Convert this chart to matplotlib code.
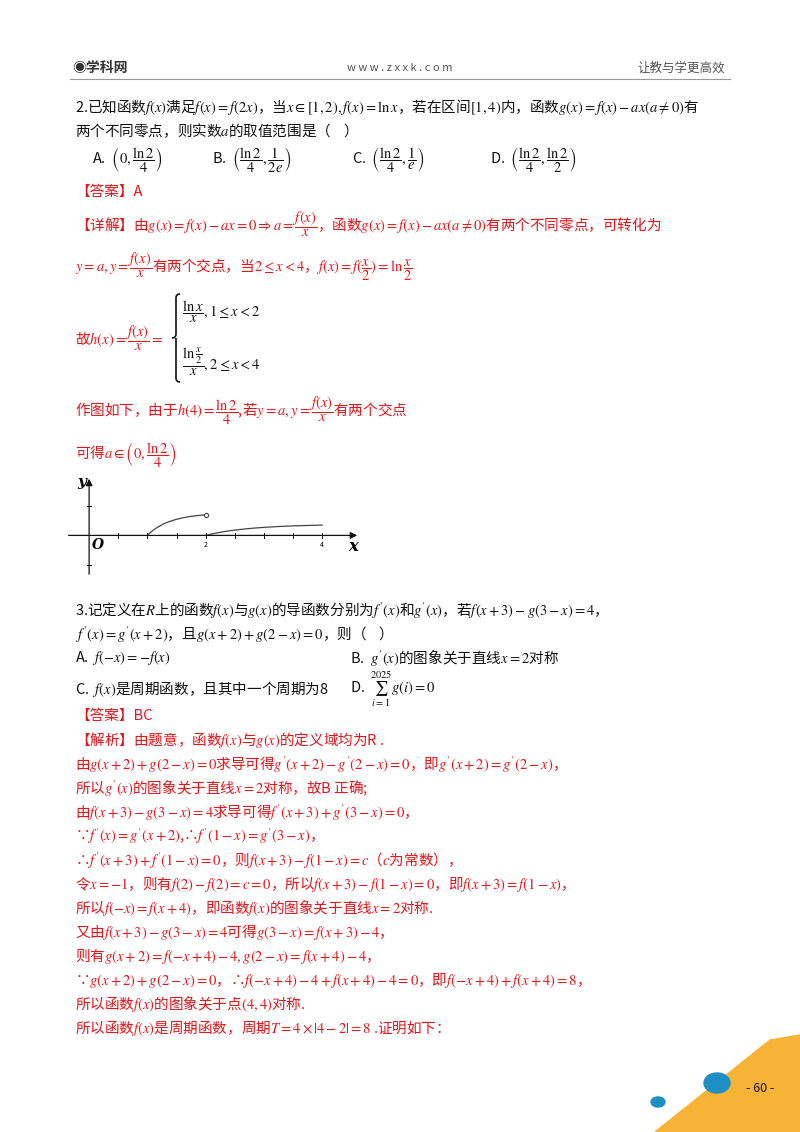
import numpy as np
import matplotlib
matplotlib.use("Agg")
import matplotlib.pyplot as plt
from matplotlib.patches import Polygon, Ellipse, PathPatch
from matplotlib.path import Path

plt.rcParams['font.family'] = ['Noto Sans CJK SC', 'DejaVu Sans']
plt.rcParams['mathtext.fontset'] = 'stix'

W, H = 800, 1132
fig = plt.figure(figsize=(8, 11.32), dpi=100)
R = '#e8141b'; K = '#111111'

def T(x, y, s, c=K, fs=10.5, **kw):
    fig.text(x / W, 1 - y / H, s, color=c, fontsize=fs, va='center', ha=kw.pop('ha', 'left'), **kw)

# header
T(72, 68, '◉学科网', '#333333', 10, weight='bold')
T(400, 68, 'w w w . z x x k . c o m', '#555555', 8, ha='center')
T(725, 68, '让教与学更高效', '#555555', 9, ha='right')
fig.add_artist(plt.Line2D([70/W, 730/W], [1-79/H, 1-79/H], color='#999999', lw=0.8))

lines = [
 (75, 107, r'2.已知函数$f(x)$满足$f(x)=f(2x)$，当$x\in[1,2),f(x)=\ln x$，若在区间$[1,4)$内，函数$g(x)=f(x)-ax(a\neq0)$有', K),
 (75, 131, '两个不同零点，则实数$a$的取值范围是（    ）', K),
 (92, 160, r'A.  $\left(0,\dfrac{\ln2}{4}\right)$', K),
 (212, 160, r'B.  $\left(\dfrac{\ln2}{4},\dfrac{1}{2e}\right)$', K),
 (352, 160, r'C.  $\left(\dfrac{\ln2}{4},\dfrac{1}{e}\right)$', K),
 (490, 160, r'D.  $\left(\dfrac{\ln2}{4},\dfrac{\ln2}{2}\right)$', K),
 (75, 192, '【答案】A', R),
 (75, 224, r'【详解】由$g(x)=f(x)-ax=0\Rightarrow a=\dfrac{f(x)}{x}$，函数$g(x)=f(x)-ax(a\neq0)$有两个不同零点，可转化为', R),
 (75, 267, r'$y=a,y=\dfrac{f(x)}{x}$有两个交点，当$2\leq x<4$，$f(x)=f(\dfrac{x}{2})=\ln\dfrac{x}{2}$', R),
 (75, 338, r'故$h(x)=\dfrac{f(x)}{x}=$', R),
 (182, 312, r'$\dfrac{\ln x}{x},1\leq x<2$', K),
 (182, 362, r'$\dfrac{\ln\frac{x}{2}}{x},2\leq x<4$', K),
 (75, 411, r'作图如下，由于$h(4)=\dfrac{\ln2}{4}$,若$y=a,y=\dfrac{f(x)}{x}$有两个交点', R),
 (75, 455, r'可得$a\in\left(0,\dfrac{\ln2}{4}\right)$', R),
 (75, 610, r'3.记定义在$R$上的函数$f(x)$与$g(x)$的导函数分别为$f^\prime(x)$和$g^\prime(x)$，若$f(x+3)-g(3-x)=4$，', K),
 (75, 634, r"$f^\prime(x)=g^\prime(x+2)$，且$g(x+2)+g(2-x)=0$，则（    ）", K),
 (75, 658, r'A.  $f(-x)=-f(x)$', K),
 (350, 658, r"B.  $g^\prime(x)$的图象关于直线$x=2$对称", K),
 (75, 689, r'C.  $f(x)$是周期函数，且其中一个周期为8', K),
 (350, 689, r'D.  $\sum_{i=1}^{2025}g(i)=0$', K),
 (75, 716, '【答案】BC', R),
 (75, 740, r'【解析】由题意，函数$f(x)$与$g(x)$的定义域均为R .', R),
 (75, 764, r"由$g(x+2)+g(2-x)=0$求导可得$g^\prime(x+2)-g^\prime(2-x)=0$，即$g^\prime(x+2)=g^\prime(2-x)$，", R),
 (75, 788, r"所以$g^\prime(x)$的图象关于直线$x=2$对称，故B 正确;", R),
 (75, 812, r"由$f(x+3)-g(3-x)=4$求导可得$f^\prime(x+3)+g^\prime(3-x)=0$，", R),
 (75, 836, r"∵$f^\prime(x)=g^\prime(x+2)$,∴$f^\prime(1-x)=g^\prime(3-x)$，", R),
 (75, 860, r"∴$f^\prime(x+3)+f^\prime(1-x)=0$，则$f(x+3)-f(1-x)=c$（$c$为常数），", R),
 (75, 884, r'令$x=-1$，则有$f(2)-f(2)=c=0$，所以$f(x+3)-f(1-x)=0$，即$f(x+3)=f(1-x)$，', R),
 (75, 908, r'所以$f(-x)=f(x+4)$，即函数$f(x)$的图象关于直线$x=2$对称.', R),
 (75, 932, r'又由$f(x+3)-g(3-x)=4$可得$g(3-x)=f(x+3)-4$，', R),
 (75, 956, r'则有$g(x+2)=f(-x+4)-4,g(2-x)=f(x+4)-4$，', R),
 (75, 980, r'∵$g(x+2)+g(2-x)=0$，∴$f(-x+4)-4+f(x+4)-4=0$，即$f(-x+4)+f(x+4)=8$，', R),
 (75, 1004, r'所以函数$f(x)$的图象关于点$(4,4)$对称.', R),
 (75, 1028, r'所以函数$f(x)$是周期函数，周期$T=4\times|4-2|=8$ .证明如下：', R),
]
for x, y, s, c in lines:
    T(x, y, s, c)

# brace drawn as a path
def P(x, y):
    return (x / W, 1 - y / H)
bx, top, mid, bot = 176, 294, 338, 382
verts = [P(bx + 4, top), P(bx, top), P(bx, top + 4), P(bx, mid - 4), P(bx, mid), P(bx - 4, mid),
         P(bx, mid), P(bx, mid + 4), P(bx, bot - 4), P(bx, bot), P(bx + 4, bot)]
codes = [Path.MOVETO, Path.CURVE3, Path.CURVE3, Path.LINETO, Path.CURVE3, Path.CURVE3,
         Path.MOVETO, Path.CURVE3, Path.LINETO, Path.CURVE3, Path.CURVE3]
fig.add_artist(PathPatch(Path(verts, codes), fill=False, lw=1.2, color=K, transform=fig.transFigure))

# small chart
x1 = np.linspace(1, 2, 100)
x2 = np.linspace(2, 4, 150)
xt = [0.5, 1, 1.5, 2, 2.5, 3, 3.5, 4]
yt = [0.5, -0.5]
ax = fig.add_axes([60/W, 1-580/H, 300/W, 110/H])
ax.set_xlim(-0.5, 4.65); ax.set_ylim(-0.75, 1.1)
ax.axis('off')
ax.annotate('', xy=(4.65, 0), xytext=(-0.4, 0), arrowprops=dict(arrowstyle='-|>', color=K, lw=0.9))
ax.annotate('', xy=(0, 1.0), xytext=(0, -0.7), arrowprops=dict(arrowstyle='-|>', color=K, lw=0.9))
for t in xt:
    ax.plot([t, t], [-0.04, 0.04], color=K, lw=0.7)
for t in yt:
    ax.plot([-0.04, 0.04], [t, t], color=K, lw=0.7)
ax.plot(x1, np.log(x1) / x1, color='#444444', lw=0.9)
ax.plot([2], [np.log(2) / 2], 'o', ms=3, mfc='white', mec='#444444', mew=0.8)
ax.plot(x2, np.log(x2 / 2) / x2, color='#444444', lw=0.9)
ax.text(2, -0.1, '2', fontsize=5, ha='center', va='top')
ax.text(4, -0.1, '4', fontsize=5, ha='center', va='top')
ax.text(0.05, -0.05, 'O', fontsize=10, ha='left', va='top', style='italic', weight='bold', family='DejaVu Serif')
ax.text(4.45, -0.05, 'x', fontsize=12, ha='left', va='top', style='italic', weight='bold', family='DejaVu Serif')
ax.text(-0.05, 0.9, 'y', fontsize=11, ha='right', va='center', style='italic', weight='bold', family='DejaVu Serif')

# footer decoration
fig.add_artist(Polygon([[655/W, 1-1132/H], [770/W, 1-1040/H], [800/W, 1-1035/H], [800/W, 0]],
                       closed=True, color='#f7b335', transform=fig.transFigure))
fig.add_artist(Ellipse((717/W, 1-1083/H), 26/W, 20/H, color='#1d8fc4', transform=fig.transFigure))
fig.add_artist(Ellipse((658/W, 1-1102/H), 14/W, 10/H, color='#1d8fc4', transform=fig.transFigure))
T(760, 1089, '- 60 -', K, 9, ha='center')

fig.savefig('out.png', dpi=100)
